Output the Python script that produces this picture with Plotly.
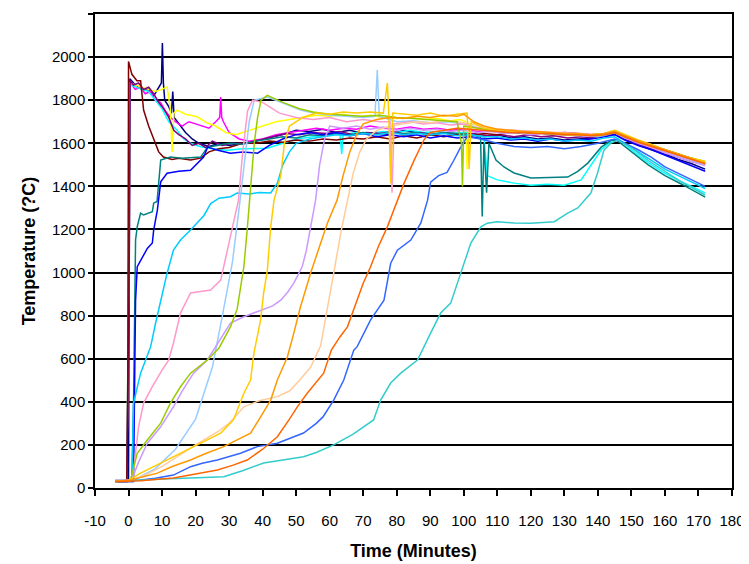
import plotly.graph_objects as go

# ---- data: (minutes, temperature °C) ----
NAVY = [(-4,35),(-1,35),(0,40),(0.4,1900),(1.5,1880),(3,1860),(4.5,1845),(6,1850),(7.5,1820),(9,1860),(9.8,1880),(10.1,2065),(10.4,1880),(10.8,1800),(12,1770),(12.8,1740),(13.2,1840),(13.6,1720),(15,1690),(17,1650),(19,1620),(21,1600),(24,1585),(27,1600),(30,1590),(34,1600),(38,1610),(42,1625),(46,1640),(50,1660),(54,1655),(58,1665),(62,1650),(66,1660),(70,1645),(74,1650),(78,1640),(82,1660),(86,1650),(90,1640),(94,1650),(98,1640),(102,1645),(106,1630),(110,1640),(114,1625),(118,1630),(122,1620),(126,1625),(130,1615),(134,1620),(138,1625),(142,1640),(145,1650),(148,1620),(152,1595),(156,1570),(160,1550),(164,1525),(168,1505),(172,1480)]
MAGENTA = [(-4,30),(-0.5,30),(0,900),(0.3,1880),(1,1870),(2,1850),(3.5,1860),(5,1830),(6.5,1840),(8,1800),(9.5,1790),(11,1750),(12.5,1720),(14,1700),(16,1680),(18,1700),(20,1690),(22,1680),(24,1670),(26,1700),(27.2,1720),(27.5,1815),(27.8,1720),(28.3,1700),(30,1650),(33,1620),(36,1610),(40,1620),(44,1640),(48,1650),(52,1660),(56,1670),(60,1660),(64,1670),(68,1665),(72,1680),(76,1670),(80,1665),(84,1675),(88,1665),(92,1670),(96,1660),(100,1665),(104,1655),(108,1660),(112,1650),(116,1655),(120,1645),(124,1650),(128,1640),(132,1645),(136,1640),(140,1635),(143,1650),(145,1655),(148,1630),(152,1605),(156,1585),(160,1565),(164,1545),(168,1525),(172,1505)]
YELLOW = [(-4,30),(-0.5,30),(0.5,1880),(2,1870),(4,1860),(6,1850),(8,1840),(10,1850),(11.5,1862),(12.5,1760),(13,1560),(13.5,1740),(14.5,1754),(17,1735),(20.5,1723),(23.5,1694),(26,1680),(29,1650),(32,1640),(36,1660),(40,1680),(44,1700),(48,1710),(52,1720),(56,1730),(60,1725),(64,1735),(68,1720),(72,1730),(76,1720),(80,1715),(84,1720),(88,1710),(92,1715),(96,1705),(99,1710),(100.5,1700),(101,1480),(101.5,1690),(104,1670),(108,1660),(112,1655),(116,1650),(120,1650),(125,1645),(130,1640),(135,1640),(140,1630),(145,1650),(148,1630),(152,1610),(156,1590),(160,1570),(164,1550),(168,1530),(172,1515)]
CYAN = [(-4,30),(-0.5,30),(0.5,1870),(2,1860),(4,1850),(6,1840),(8,1800),(10,1760),(12,1700),(14.5,1661),(16.5,1620),(18.5,1600),(21.5,1584),(25,1575),(29.5,1568),(34,1575),(41.4,1577),(46,1600),(50,1620),(55,1630),(60,1640),(63,1650),(63.6,1550),(64,1640),(68,1650),(72,1645),(76,1655),(80,1650),(84,1660),(88,1650),(92,1655),(96,1645),(100,1650),(104,1640),(106,1630),(107,1450),(110,1430),(115,1415),(120,1405),(125,1410),(130,1405),(135,1430),(138,1500),(141,1570),(144,1610),(146,1620),(150,1570),(155,1510),(160,1460),(165,1420),(172,1370)]
PURPLE = [(-4,30),(-0.5,30),(0.2,1000),(0.5,1890),(1.5,1870),(3,1880),(4.5,1850),(6,1860),(7.5,1830),(9,1790),(10.5,1760),(12,1720),(13.5,1660),(15,1640),(17,1620),(19,1590),(21,1600),(23,1580),(25,1610),(28,1590),(31,1600),(35,1600),(39,1615),(43,1630),(47,1645),(51,1640),(55,1650),(59,1645),(63,1655),(67,1640),(71,1650),(75,1645),(79,1655),(83,1640),(87,1650),(91,1640),(95,1650),(99,1640),(103,1645),(107,1635),(111,1640),(115,1630),(119,1640),(123,1630),(127,1635),(131,1625),(135,1630),(139,1625),(142,1640),(145,1645),(148,1620),(152,1595),(156,1575),(160,1555),(164,1535),(168,1515),(172,1500)]
DARK_RED = [(-4,30),(-0.5,30),(-0.2,500),(-0.1,1400),(0,1980),(1,1920),(2.5,1890),(3.6,1890),(4.5,1754),(6,1680),(7.5,1615),(9,1560),(10.4,1536),(13,1525),(15,1530),(18.5,1522),(21.5,1531),(24,1560),(27,1575),(30,1580),(34,1600),(38,1600),(42,1610),(46,1605),(50,1615),(54,1610),(58,1620),(62,1615),(66,1625),(70,1620),(74,1630),(78,1620),(82,1635),(86,1625),(90,1640),(94,1630),(98,1640),(102,1635),(106,1645),(110,1640),(114,1650),(118,1645),(122,1650),(126,1640),(130,1650),(134,1645),(138,1640),(142,1645),(145,1655),(148,1630),(152,1610),(156,1590),(160,1570),(164,1550),(168,1530),(172,1510)]
TEAL = [(-4,30),(1,30),(1.5,400),(2.1,1151),(2.6,1213),(3.6,1276),(4.5,1267),(6,1276),(7.1,1282),(7.5,1322),(8.5,1330),(9.6,1522),(12.5,1536),(16,1530),(21.5,1536),(23.6,1582),(26,1590),(30,1600),(34,1595),(38,1610),(42,1620),(46,1630),(50,1625),(54,1640),(58,1635),(62,1645),(66,1640),(70,1650),(74,1640),(78,1650),(82,1645),(86,1650),(90,1640),(94,1650),(98,1645),(102,1640),(105,1630),(105.5,1260),(106,1600),(106.8,1370),(107.5,1600),(109.6,1522),(112,1490),(115,1462),(120,1439),(125,1440),(131,1443),(134,1470),(137,1508),(141,1582),(144,1615),(146,1610),(150,1560),(155,1500),(160,1450),(165,1410),(172,1350)]
BLUE = [(-4,30),(1.5,30),(1.9,600),(2.1,872),(2.6,1027),(4.1,1073),(5.6,1112),(7.1,1137),(7.5,1197),(8.6,1290),(9.6,1421),(11.5,1461),(15,1470),(18.5,1475),(22.4,1536),(23.6,1582),(26.6,1568),(30.4,1554),(34,1560),(38.5,1554),(42,1590),(46,1620),(50,1640),(54,1650),(58,1640),(62,1650),(66,1635),(70,1645),(74,1630),(78,1640),(82,1630),(86,1640),(90,1625),(94,1635),(98,1625),(102,1630),(106,1620),(110,1625),(114,1615),(118,1620),(122,1610),(126,1620),(130,1610),(134,1615),(138,1620),(142,1630),(145,1640),(148,1615),(152,1590),(156,1570),(160,1545),(164,1520),(168,1495),(172,1470)]
SKY_BLUE = [(-4,30),(1,35),(1.5,394),(2.6,470),(3.6,533),(5.1,594),(6.6,656),(8,760),(9.6,872),(11.5,997),(13.4,1104),(15.5,1151),(18.5,1197),(20.5,1230),(22.5,1265),(24.5,1320),(27,1345),(30.4,1352),(32.4,1369),(36,1365),(39,1372),(42.4,1369),(44.4,1415),(46,1500),(48,1560),(50,1600),(54,1620),(58,1630),(62,1640),(66,1635),(70,1645),(74,1640),(78,1650),(82,1640),(86,1645),(90,1640),(94,1645),(98,1635),(102,1640),(106,1630),(110,1630),(114,1620),(118,1625),(122,1615),(126,1620),(130,1610),(134,1615),(138,1610),(142,1625),(145,1630),(148,1600),(152,1560),(156,1520),(160,1480),(164,1450),(168,1420),(172,1390)]
PALE_BLUE = [(-4,30),(2,40),(8,90),(14,180),(20,320),(25,560),(28,800),(31,1050),(33,1300),(34.5,1500),(36,1700),(37.5,1800),(41.4,1815),(46.3,1786),(51.3,1754),(55.2,1740),(60,1730),(65,1725),(70,1720),(73.5,1725),(74.2,1940),(74.8,1725),(76,1720),(80,1700),(85,1705),(90,1695),(95,1700),(100,1690),(105,1670),(110,1660),(115,1650),(120,1650),(125,1645),(130,1640),(135,1635),(140,1630),(145,1650),(148,1625),(152,1605),(156,1580),(160,1560),(164,1540),(168,1520),(172,1500)]
ROSE = [(-4,30),(1,35),(1.5,84),(3,284),(4.5,394),(7.1,470),(10,547),(12,594),(13.4,673),(15.5,812),(18.5,905),(21,912),(24.5,919),(27.5,965),(29.5,1104),(31.3,1244),(32.8,1336),(34,1550),(35.5,1750),(37,1800),(40,1790),(45,1740),(50,1720),(55,1710),(60,1720),(65,1700),(70,1710),(75,1700),(78,1700),(78.6,1370),(79.2,1690),(84,1700),(88,1690),(92,1695),(96,1685),(100,1690),(102,1677),(106,1670),(110,1665),(115,1660),(120,1655),(125,1650),(130,1650),(135,1645),(140,1640),(145,1655),(148,1630),(152,1610),(156,1585),(160,1565),(164,1545),(168,1525),(172,1505)]
LAVENDER = [(-4,30),(1,40),(3,120),(5.6,208),(9.6,284),(13.4,377),(16,450),(19.4,533),(23.5,594),(27,680),(30.4,765),(34.4,795),(37,810),(40.3,826),(43,845),(45.4,872),(47.5,910),(49.3,951),(51.8,1027),(53,1100),(54.3,1212),(55.8,1336),(57,1500),(58.5,1620),(60,1680),(64,1670),(68,1680),(72,1665),(76,1675),(80,1660),(84,1670),(88,1660),(92,1665),(96,1655),(100,1660),(104,1650),(108,1655),(112,1645),(116,1650),(120,1640),(124,1645),(128,1640),(132,1640),(136,1635),(140,1635),(145,1650),(148,1625),(152,1600),(156,1580),(160,1555),(164,1535),(168,1515),(172,1495)]
TAN = [(-4,30),(0,30),(5,60),(10,100),(15,150),(20,200),(26.5,260),(30,300),(34.4,377),(39,405),(44.4,424),(48,450),(51,500),(54.3,560),(57.3,660),(59.3,826),(61.2,997),(63.3,1183),(65.3,1336),(67,1460),(69,1560),(71,1620),(74,1660),(78,1680),(82,1690),(86,1700),(90,1695),(94,1705),(98,1700),(102,1690),(106,1675),(110,1665),(114,1660),(118,1655),(122,1650),(126,1650),(130,1645),(134,1640),(138,1640),(142,1645),(145,1660),(148,1635),(152,1610),(156,1590),(160,1570),(164,1550),(168,1530),(172,1510)]
LIGHT_BLUE = [(-4,30),(3.6,37),(8,45),(13.4,60),(18.5,99),(22,115),(26.5,130),(30,145),(33.4,161),(38.4,192),(44.4,208),(48,230),(52.2,255),(56,300),(58,330),(61.2,408),(64.2,501),(67.2,640),(68.2,656),(72.2,780),(76.2,872),(78.2,1043),(80.2,1104),(84.2,1151),(87.2,1230),(89.2,1336),(90.1,1420),(92.5,1450),(95,1465),(97,1520),(99,1580),(101,1630),(105,1620),(110,1600),(115,1585),(120,1580),(125,1585),(130,1575),(135,1585),(140,1600),(145,1620),(148,1600),(152,1570),(156,1535),(160,1490),(164,1460),(168,1430),(172,1400)]
AQUA = [(-4,30),(3.6,37),(10,42),(18.5,46),(28.4,52),(34,80),(40.3,116),(46,130),(52.2,145),(56,165),(61.2,200),(67,250),(73.1,316),(75.2,408),(78.2,487),(81.2,533),(86.2,594),(90.1,719),(93.1,812),(96.1,858),(99.1,997),(102.1,1137),(105.1,1212),(107,1229),(110,1236),(115,1230),(120,1229),(124,1232),(127,1236),(131,1276),(134,1300),(137.9,1369),(139.9,1462),(141.8,1568),(143.9,1601),(145.9,1615),(150,1580),(155,1520),(160,1470),(165,1420),(172,1360)]
LIME = [(-4,30),(0.5,35),(1.1,67),(2.6,161),(5.6,223),(9.6,301),(12.5,394),(15.5,470),(18.5,533),(23.5,594),(27,650),(30.4,748),(32.4,830),(34.4,1027),(35.4,1200),(36.4,1400),(37.5,1600),(38.5,1720),(39.5,1800),(41.4,1822),(43,1810),(46,1790),(51,1760),(55,1745),(60,1735),(65,1730),(70,1725),(75,1730),(80,1720),(85,1715),(90,1710),(95,1705),(98,1700),(99.3,1600),(99.6,1400),(100,1680),(104,1670),(108,1660),(112,1655),(116,1650),(120,1650),(125,1645),(130,1640),(135,1640),(140,1635),(145,1650),(148,1630),(152,1610),(156,1590),(160,1570),(164,1550),(168,1530),(172,1515)]
GOLD = [(-4,30),(0,35),(3.6,69),(9.6,116),(15.5,161),(21.5,208),(27.5,255),(31.3,316),(34.4,440),(36.4,501),(37.4,626),(39.4,780),(40.3,905),(41.4,1010),(42.4,1210),(43.4,1336),(44.4,1390),(45.4,1450),(46.5,1600),(48,1680),(52,1720),(56,1740),(60,1735),(64,1745),(68,1740),(72,1745),(76,1740),(77.2,1879),(77.6,1750),(78.2,1415),(78.8,1740),(82,1735),(86,1730),(90,1740),(94,1725),(98,1735),(101,1740),(101.6,1480),(102.2,1700),(106,1670),(110,1660),(114,1655),(118,1650),(122,1650),(126,1645),(130,1645),(134,1640),(138,1640),(142,1645),(145,1660),(148,1640),(152,1615),(156,1595),(160,1570),(164,1550),(168,1530),(172,1515)]
LIGHT_ORANGE = [(-4,30),(0.6,37),(8.6,69),(13,100),(18.5,130),(23,160),(28.4,192),(32,220),(36.4,255),(39,320),(42.4,408),(44.4,501),(47.4,609),(49.3,719),(51.3,841),(54.3,997),(57,1120),(59.3,1229),(62.2,1336),(64,1450),(66,1560),(68,1640),(70,1690),(74,1710),(78,1720),(82,1715),(86,1725),(90,1720),(94,1730),(98,1725),(100,1735),(103,1700),(106,1680),(110,1665),(114,1660),(118,1655),(122,1655),(126,1650),(130,1645),(134,1645),(138,1640),(142,1645),(145,1655),(148,1635),(152,1612),(156,1590),(160,1570),(164,1548),(168,1528),(172,1508)]
ORANGE = [(-4,30),(3.6,34),(8,40),(13.4,46),(20,65),(26.5,84),(31,105),(35.4,130),(40,180),(44.4,238),(48,320),(50.5,380),(53.3,440),(56,490),(58.2,533),(60.5,640),(63,700),(65.3,748),(68.2,872),(70,950),(72.2,1027),(74.5,1120),(77.2,1212),(80.2,1336),(82.2,1415),(85.2,1522),(88.1,1615),(90,1650),(94,1660),(98,1670),(102,1665),(106,1660),(110,1655),(114,1650),(118,1650),(122,1645),(126,1645),(130,1640),(134,1640),(138,1635),(142,1640),(145,1650),(148,1630),(152,1605),(156,1585),(160,1565),(164,1545),(168,1525),(172,1505)]

SERIES = [
    (NAVY, "#000080"), (MAGENTA, "#FF00FF"), (YELLOW, "#FFFF00"), (CYAN, "#00FFFF"),
    (PURPLE, "#800080"), (DARK_RED, "#800000"), (TEAL, "#008080"), (BLUE, "#0000FF"),
    (SKY_BLUE, "#00CCFF"), (PALE_BLUE, "#99CCFF"), (ROSE, "#FF99CC"), (LAVENDER, "#CC99FF"),
    (TAN, "#FFCC99"), (LIGHT_BLUE, "#3366FF"), (AQUA, "#33CCCC"), (LIME, "#99CC00"),
    (GOLD, "#FFCC00"), (LIGHT_ORANGE, "#FF9900"), (ORANGE, "#FF6600"),
]

X_TICKS = list(range(-10, 181, 10))
Y_TICKS = list(range(0, 2201, 200))

fig = go.Figure()
for pts, color in SERIES:
    fig.add_trace(go.Scatter(
        x=[p[0] for p in pts], y=[p[1] for p in pts], mode="lines",
        line=dict(color=color, width=1.5), hoverinfo="skip", showlegend=False))

FONT = "Liberation Sans, Arial, sans-serif"
fig.update_layout(
    width=741, height=556,
    margin=dict(l=87, r=17, t=6, b=76),
    paper_bgcolor="white", plot_bgcolor="white",
    font=dict(family=FONT, color="black", size=15),
    xaxis=dict(range=[-10, 180], tickvals=X_TICKS, ticktext=[str(v) for v in X_TICKS],
               ticks="outside", ticklen=6, tickwidth=1.5, tickcolor="black",
               showline=True, linecolor="black", linewidth=1.5, mirror=True,
               showgrid=False, zeroline=False, ticklabelstandoff=12,
               tickfont=dict(size=15, family=FONT),
               title=dict(text="<b>Time (Minutes)</b>", font=dict(size=18, family=FONT), standoff=17),
               automargin=False),
    yaxis=dict(range=[0, 2200], tickvals=Y_TICKS, ticktext=[str(v) for v in Y_TICKS],
               ticks="outside", ticklen=5, tickwidth=1.5, tickcolor="black",
               showline=True, linecolor="black", linewidth=1.5, mirror=True,
               showgrid=True, gridcolor="black", gridwidth=1.5, zeroline=False,
               tickfont=dict(size=15, family=FONT),
               title=dict(text="<b>Temperature (?C)</b>", font=dict(size=18, family=FONT), standoff=12),
               automargin=False),
)

fig.write_html("out.html")
